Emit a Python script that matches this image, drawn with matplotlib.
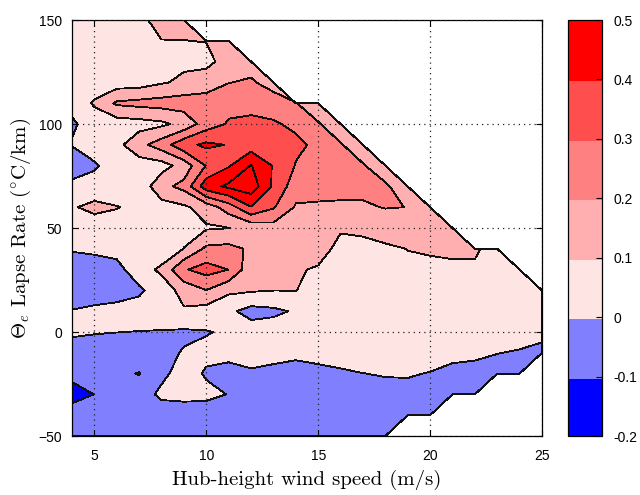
import numpy as np
import matplotlib
matplotlib.use("Agg")
import matplotlib.pyplot as plt
from matplotlib.colors import ListedColormap, BoundaryNorm
from matplotlib.cm import ScalarMappable

nan = np.nan

# grid axes
wind_speed = np.arange(4, 26, 1)          # hub-height wind speed (m/s)
lapse_rate = np.arange(-50, 151, 10)      # theta-e lapse rate (degC/km)

# correlation field, one row per lapse-rate bin (x = 4..25 m/s); missing bins are NaN
row_m50 = [-0.06, -0.06, -0.07, -0.07, -0.07, -0.07, -0.06, -0.06, -0.07, -0.07, -0.07, -0.07, -0.07, -0.06, -0.05]
row_m40 = [-0.06, -0.06, -0.07, -0.07, -0.054, -0.056, -0.05, -0.06, -0.06, -0.07, -0.07, -0.07, -0.07, -0.06, -0.06, -0.05, -0.05]
row_m30 = [-0.13, -0.099, -0.06, -0.047, 0.02, 0.03, 0.023, -0.003, -0.04, -0.05, -0.06, -0.06, -0.05, -0.04, -0.03, -0.03, -0.05, -0.06, -0.06]
row_m20 = [-0.08, -0.06, -0.08, -0.104, -0.0215, 0.04, -0.01, -0.024, -0.01, -0.025, -0.045, -0.025, -0.01, -0.001, 0.006, 0.008, -0.004, -0.04, -0.05, -0.05, -0.04]
row_m10 = [-0.03, -0.04, -0.04, -0.04, -0.024, 0.006, 0.02, 0.02, 0.03, 0.03, 0.025, 0.03, 0.03, 0.04, 0.04, 0.04, 0.04, 0.04, 0.03, 0.003, -0.01, -0.03]
row_p0 = [0.01, 0.005, 0.001, -0.002, -0.005, -0.014, -0.005, 0.012, 0.048, 0.05, 0.05, 0.05, 0.05, 0.05, 0.05, 0.05, 0.05, 0.05, 0.05, 0.05, 0.05, 0.03]
row_p10 = [0.005, 0.02, 0.03, 0.04, 0.05, 0.09, 0.058, 0.02, -0.035, -0.02, 0.01, 0.04, 0.05, 0.05, 0.06, 0.06, 0.06, 0.06, 0.06, 0.06, 0.05, 0.04]
row_p20 = [-0.06, -0.05, -0.04, -0.016, 0.0475, 0.135, 0.198, 0.12, 0.11, 0.101, 0.101, 0.08, 0.07, 0.07, 0.07, 0.07, 0.07, 0.07, 0.07, 0.07, 0.06, 0.03]
row_p30 = [-0.06, -0.05, -0.03, 0.053, 0.12, 0.29, 0.34, 0.299, 0.133, 0.12, 0.105, 0.095, 0.085, 0.085, 0.085, 0.09, 0.09, 0.09, 0.09, 0.07, 0.06]
row_p40 = [0.01, 0.02, 0.03, 0.03, 0.033, 0.102, 0.22, 0.23, 0.184, 0.15, 0.13, 0.12, 0.0858, 0.086, 0.0895, 0.101, 0.105, 0.11, 0.11, 0.07]
row_p50 = [0.04, 0.04, 0.05, 0.05, 0.06, 0.07, 0.09, 0.098, 0.13, 0.16, 0.15, 0.13, 0.105, 0.11, 0.13, 0.12, 0.12, 0.12]
row_p60 = [0.089, 0.13, 0.105, 0.07, 0.06, 0.085, 0.14, 0.25, 0.395, 0.31, 0.19, 0.185, 0.18, 0.185, 0.205, 0.199, 0.14]
row_p70 = [0.03, 0.03, 0.03, 0.03, 0.17, 0.23, 0.46, 0.52, 0.56, 0.383, 0.245, 0.24, 0.24, 0.23, 0.22, 0.12]
row_p80 = [-0.06, -0.01, 0.04, 0.05, 0.06, 0.14, 0.305, 0.39, 0.505, 0.391, 0.295, 0.26, 0.24, 0.21, 0.12]
row_p90 = [0.005, 0.04, 0.07, 0.17, 0.25, 0.37, 0.42, 0.395, 0.35, 0.33, 0.32, 0.28, 0.21, 0.12]
row_p100 = [-0.01, 0.03, 0.05, 0.06, 0.08, 0.13, 0.25, 0.31, 0.315, 0.31, 0.283, 0.21, 0.12]
row_p110 = [0.02, 0.115, 0.215, 0.23, 0.24, 0.25, 0.26, 0.27, 0.28, 0.26, 0.205, 0.12]
row_p120 = [0.02, 0.032, 0.05, 0.054, 0.09, 0.12, 0.138, 0.197, 0.215, 0.15]
row_p130 = [0.03, 0.04, 0.05, 0.06, 0.07, 0.08, 0.08, 0.13, 0.15]
row_p140 = [0.04, 0.05, 0.06, 0.09, 0.099, 0.099, 0.102, 0.12]
row_p150 = [0.04, 0.05, 0.06, 0.09, 0.115, 0.13]

rows = [row_m50, row_m40, row_m30, row_m20, row_m10, row_p0, row_p10, row_p20,
        row_p30, row_p40, row_p50, row_p60, row_p70, row_p80, row_p90, row_p100,
        row_p110, row_p120, row_p130, row_p140, row_p150]

levels = [-0.2, -0.1, 0.0, 0.1, 0.2, 0.3, 0.4, 0.5]
level_colors = ["#0000FF", "#8080FF", "#FFE4E4", "#FFAFAF", "#FF8080", "#FF4E4E", "#FF0000"]
x_ticks = [5, 10, 15, 20, 25]
y_ticks = [-50, 0, 50, 100, 150]

Z = np.full((len(lapse_rate), len(wind_speed)), nan)
for i, r in enumerate(rows):
    Z[i, :len(r)] = r
X, Y = np.meshgrid(wind_speed, lapse_rate)

plt.rcParams["mathtext.fontset"] = "cm"
label_font = "cmr10"
tick_font = "Liberation Sans"

fig = plt.figure(figsize=(6.4, 4.95), dpi=100)
ax = fig.add_axes([72 / 640, 59 / 495, 470 / 640, 416 / 495])
cax = fig.add_axes([568 / 640, 59 / 495, 34 / 640, 416 / 495])

# filled contours; values above the top level share the top colour
fill_levels = levels + [1.0]
fill_colors = level_colors + [level_colors[-1]]
cs = ax.contourf(X, Y, Z, levels=fill_levels, colors=fill_colors, corner_mask=True, zorder=1)
cs.set_edgecolor("#111111")
cs.set_linewidth(0.6)

ax.set_xlim(4, 25)
ax.set_ylim(-50, 150)
ax.set_xticks(x_ticks)
ax.set_yticks(y_ticks)
ax.grid(True, linestyle=(0, (1, 3.2)), color="#222222", linewidth=0.9)
ax.set_axisbelow(False)
ax.tick_params(direction="in", top=True, right=True, length=4, width=0.8, labelsize=10)
ax.tick_params(axis="x", pad=9)
ax.tick_params(axis="y", pad=7)
for lab in ax.get_xticklabels() + ax.get_yticklabels():
    lab.set_fontfamily(tick_font)
for sp in ax.spines.values():
    sp.set_linewidth(0.9)

ax.set_xlabel("Hub-height wind speed (m/s)", fontfamily=label_font, fontsize=15, labelpad=5)
ax.set_ylabel(r"$\Theta_e$ Lapse Rate ($^{\circ}$C/km)", fontfamily=label_font, fontsize=15, labelpad=4)

# colour bar
cmap = ListedColormap(level_colors)
norm = BoundaryNorm(levels, cmap.N)
cb = fig.colorbar(ScalarMappable(norm=norm, cmap=cmap), cax=cax, ticks=levels)
cb.ax.set_yticklabels(["-0.2", "-0.1", "0", "0.1", "0.2", "0.3", "0.4", "0.5"])
cb.ax.tick_params(direction="in", length=4, width=0.8, labelsize=10, pad=8)
for lab in cb.ax.get_yticklabels():
    lab.set_fontfamily(tick_font)
cb.outline.set_linewidth(0.9)
cb.solids.set_edgecolor("face")

fig.savefig("out.png", dpi=100)
